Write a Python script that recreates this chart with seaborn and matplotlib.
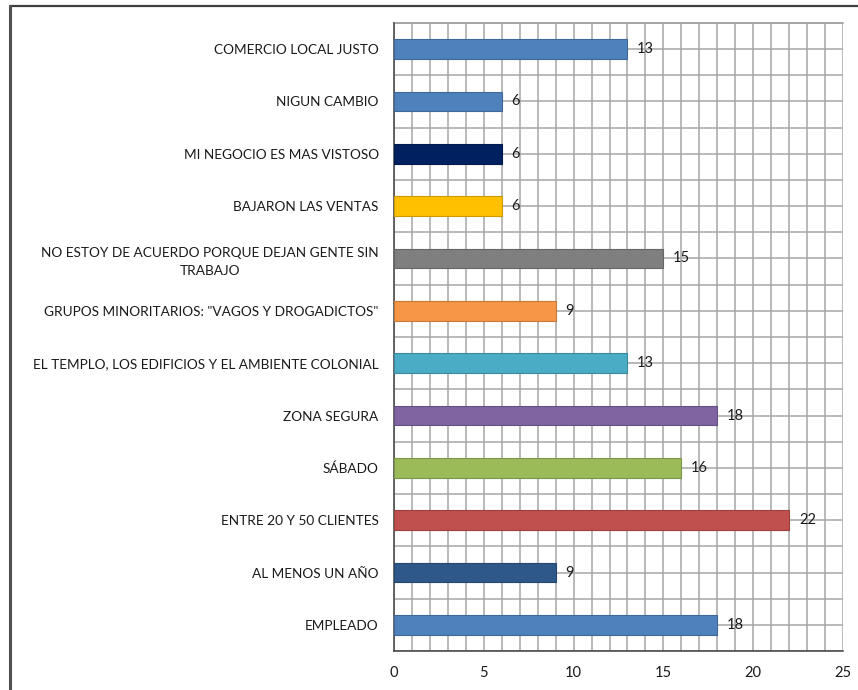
import matplotlib
matplotlib.use("Agg")
import matplotlib.pyplot as plt
import matplotlib.colors as mcolors
from matplotlib.lines import Line2D
from matplotlib.ticker import MultipleLocator, FixedLocator
import seaborn as sns
import pandas as pd


# DATA (top to bottom, as in the picture)

categories = [
    "COMERCIO LOCAL JUSTO",
    "NIGUN CAMBIO",
    "MI NEGOCIO ES MAS VISTOSO",
    "BAJARON LAS VENTAS",
    "NO ESTOY DE ACUERDO PORQUE DEJAN GENTE SIN\nTRABAJO",
    "GRUPOS MINORITARIOS: \"VAGOS Y DROGADICTOS\"",
    "EL TEMPLO, LOS EDIFICIOS Y EL AMBIENTE COLONIAL",
    "ZONA SEGURA",
    "SÁBADO",
    "ENTRE 20 Y 50 CLIENTES",
    "AL MENOS UN AÑO",
    "EMPLEADO",
]
values = [13, 6, 6, 6, 15, 9, 13, 18, 16, 22, 9, 18]
bar_colors = [
    "#4F81BD", "#4F81BD", "#002060", "#FFC000", "#7F7F7F", "#F79646",
    "#4BACC6", "#8064A2", "#9BBB59", "#C0504D", "#2E578A", "#4F81BD",
]

df = pd.DataFrame({"categoria": categories, "valor": values})


# FIGURE

sns.set_style("white")
plt.rcParams["font.family"] = ["Lato", "DejaVu Sans"]

fig = plt.figure(figsize=(8.58, 6.90), dpi=100)
ax = fig.add_axes([0.4592, 0.0565, 0.5233, 0.9102])

sns.barplot(
    data=df, x="valor", y="categoria", hue="categoria",
    palette=bar_colors, order=categories, hue_order=categories,
    orient="h", width=0.38, saturation=1, legend=False, ax=ax, zorder=3,
)

# darker outline on each bar, like the original
for patch, c in zip(ax.patches, bar_colors):
    edge = [v * 0.8 for v in mcolors.to_rgb(c)]
    patch.set_edgecolor(edge)
    patch.set_linewidth(0.8)

# data labels
for i, v in enumerate(values):
    ax.annotate(str(v), (v, i), xytext=(7, 0), textcoords="offset points",
                va="center", ha="left", fontsize=10.5, color="#1A1A1A", zorder=4)


# AXES AND GRID

ax.set_xlim(0, 25)
ax.set_ylim(len(categories) - 0.5, -0.5)
ax.xaxis.set_major_locator(MultipleLocator(5))
ax.xaxis.set_minor_locator(MultipleLocator(1))
ax.yaxis.set_minor_locator(FixedLocator([i - 0.5 for i in range(len(categories) + 1)]))

ax.grid(which="both", color="#A6A6A6", linewidth=1.1, zorder=0)
ax.set_axisbelow(True)
ax.axhline(-0.5, color="#A6A6A6", linewidth=1.4, zorder=2, clip_on=False)

ax.tick_params(axis="x", which="major", length=5, width=1.1, color="#404040",
               labelsize=10.5, pad=6, labelcolor="#1A1A1A")
ax.tick_params(axis="x", which="minor", length=0)
ax.tick_params(axis="y", which="major", length=0, labelsize=9.8, pad=11,
               labelcolor="#1A1A1A")
ax.tick_params(axis="y", which="minor", length=5, width=1.1, color="#404040")
for lbl in ax.get_yticklabels():
    lbl.set_multialignment("center")
    lbl.set_linespacing(1.55)

ax.set_xlabel("")
ax.set_ylabel("")

for side in ["top", "right"]:
    ax.spines[side].set_visible(False)
for side in ["left", "bottom"]:
    ax.spines[side].set_color("#404040")
    ax.spines[side].set_linewidth(1.1)

# outer frame of the chart area (top and left edges)
fig.add_artist(Line2D([10 / 858, 1], [1 - 6 / 690, 1 - 6 / 690],
                      color="#404040", linewidth=1.6))
fig.add_artist(Line2D([10 / 858, 10 / 858], [1 - 6 / 690, 0],
                      color="#505050", linewidth=2.2))

fig.savefig("out.png", dpi=100)
